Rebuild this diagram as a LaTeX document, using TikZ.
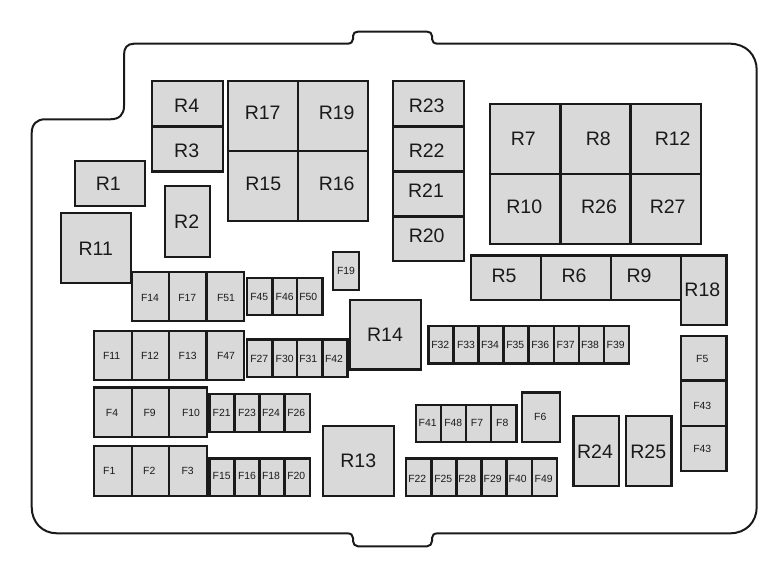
\documentclass[tikz,border=0pt]{standalone}
\usepackage{fontspec}
\setmainfont{Liberation Sans}
\definecolor{boxfill}{HTML}{D9D9D9}
\definecolor{boxline}{HTML}{1A1A1A}
\tikzset{
    housing/.style={draw=boxline, line width=2pt, line join=round},
    slotbox/.style={draw=boxline, fill=boxfill, line width=2.4pt},
    relaylabel/.style={inner sep=0pt, text=boxline, font=\fontsize{19.5}{20}\selectfont},
    fuselabel/.style={inner sep=0pt, text=boxline, font=\fontsize{10.4}{11}\selectfont}
}
% one row of slots: top, bottom, label height, list of left/right/label x/text
\newcommand{\slotrow}[5]{
    \foreach \xa/\xb/\lx/\lab in {#5} {
        \draw [slotbox] (\xa,#1) rectangle (\xb,#2);
        \node [#4] (\lab-#1) at (\lx,#3) {\lab};
    }
}
\begin{document}
\begin{tikzpicture}[x=1pt,y=-1pt]
    \useasboundingbox (0,0) rectangle (782,571);

    % Housing outline
    \draw [housing] (31.7,133) .. controls (31.7,124) and (37,119.3) .. (45,119.3)
        -- (110,119.3) .. controls (119,119.3) and (124,115) .. (124,106)
        -- (124,55) .. controls (124,48) and (127,43.7) .. (134,43.7)
        -- (347,43.7) .. controls (351,43.7) and (353,42) .. (353,39)
        -- (353,36) .. controls (353,33) and (355,31.7) .. (358,31.7)
        -- (427,31.7) .. controls (430,31.7) and (432,33) .. (432,36)
        -- (432,39) .. controls (432,42) and (434,43.7) .. (438,43.7)
        -- (730,43.7) .. controls (746,43.7) and (756.7,55) .. (756.7,70)
        -- (756.7,507) .. controls (756.7,522) and (746,533.3) .. (730,533.3)
        -- (438,533.3) .. controls (434,533.3) and (432,535) .. (432,538)
        -- (432,541) .. controls (432,544) and (430,546.3) .. (427,546.3)
        -- (358,546.3) .. controls (355,546.3) and (353,544) .. (353,541)
        -- (353,538) .. controls (353,535) and (351,533.3) .. (347,533.3)
        -- (57,533.3) .. controls (42,533.3) and (31.7,522) .. (31.7,507)
        -- cycle;

    % Relays, big labels
    \slotrow{81}{126.3}{105.7}{relaylabel}{152/222.7/186.7/R4, 393/463.7/426.7/R23}
    \slotrow{126.3}{171.3}{150.5}{relaylabel}{152/222.7/186.7/R3, 393/463.7/426.7/R22}
    \slotrow{171.3}{216.3}{191}{relaylabel}{393/463.7/426/R21}
    \slotrow{216.3}{261}{236}{relaylabel}{393/463.7/426.7/R20}
    \slotrow{81}{151}{112.3}{relaylabel}{228/298/262.7/R17, 298/368/336.7/R19}
    \slotrow{151}{221}{184}{relaylabel}{228/298/263.3/R15, 298/368/336.7/R16}
    \slotrow{161}{206}{184}{relaylabel}{75/145/108.3/R1}
    \slotrow{186}{256.7}{221.3}{relaylabel}{164.7/210/186.7/R2}
    \slotrow{213}{283}{248.3}{relaylabel}{61/131/95.7/R11}
    \slotrow{103.7}{174}{139}{relaylabel}{490/560.3/523.3/R7, 560.3/630.3/598.3/R8, 630.3/701/672.7/R12}
    \slotrow{174}{243.7}{206.7}{relaylabel}{490/560.3/524.3/R10, 560.3/630.3/599/R26, 630.3/701/667.7/R27}
    \slotrow{255.3}{300}{276}{relaylabel}{471/541/504/R5, 541/611/574/R6, 611/681/639/R9}
    \slotrow{255.3}{324.7}{290}{relaylabel}{681/726.3/702.3/R18}
    \slotrow{300}{369.3}{335}{relaylabel}{350/420.7/385/R14}
    \slotrow{425.7}{496}{460.7}{relaylabel}{323/393.7/358.3/R13}
    \slotrow{415.7}{486}{451.7}{relaylabel}{573.3/619/595/R24, 626/671.3/648.3/R25}

    % Fuses, small labels
    \slotrow{252}{290}{270.7}{fuselabel}{333/359/346/F19}
    \slotrow{271.7}{321}{298.3}{fuselabel}{131.7/169/150/F14, 169/206.3/187.3/F17, 206.3/244/226/F51}
    \slotrow{277.7}{315}{296.7}{fuselabel}{246.7/272.3/259.3/F45, 272.3/297/284.7/F46, 297/322.3/308.3/F50}
    \slotrow{330.7}{380}{356}{fuselabel}{93.7/131.7/111.7/F11, 131.7/169/150/F12, 169/206.3/187.7/F13, 206.3/244/226/F47}
    \slotrow{339.3}{377}{359}{fuselabel}{246.7/272.3/259.3/F27, 272.3/297/284.7/F30, 297/322.3/308.3/F31, 322.3/347.3/334/F42}
    \slotrow{387.3}{436.7}{413.3}{fuselabel}{93.7/131.7/112/F4, 131.7/169/149.7/F9, 169/206.7/191/F10}
    \slotrow{394}{431.7}{413.3}{fuselabel}{209.3/234.3/221.7/F21, 234.3/259.3/247/F23, 259.3/284.3/271/F24, 284.3/309.7/296.3/F26}
    \slotrow{446}{496}{471}{fuselabel}{93.7/131.7/109.3/F1, 131.7/169/149.3/F2, 169/206.7/187.7/F3}
    \slotrow{458.3}{496}{476}{fuselabel}{209.3/234.3/221.7/F15, 234.3/259.3/247/F16, 259.3/284.3/271/F18, 284.3/309.7/296.3/F20}
    \slotrow{325.7}{363.3}{345}{fuselabel}{428.3/453.3/440.3/F32, 453.3/478.3/466/F33, 478.3/503.3/490/F34, 503.3/528.3/515.3/F35, 528.3/553.7/540.3/F36, 553.7/578.7/565.7/F37, 578.7/603.7/590/F38, 603.7/629/615.7/F39}
    \slotrow{404.7}{442}{423}{fuselabel}{415.7/441/427.7/F41, 441/466/453.3/F48, 466/491/477/F7, 491/516.3/502.3/F8}
    \slotrow{392.3}{442}{416.7}{fuselabel}{522/560/540.3/F6}
    \slotrow{458.3}{496}{479}{fuselabel}{406/431.3/417.3/F22, 431.3/456.3/443.3/F25, 456.3/481.3/467.3/F28, 481.3/506.3/492.7/F29, 506.3/531.7/517.7/F40, 531.7/556.7/543.7/F49}
    \slotrow{336}{380.3}{359.3}{fuselabel}{681/726.3/702.3/F5}
    \slotrow{380.3}{425.7}{405.7}{fuselabel}{681/726.3/702.3/F43}
    \slotrow{425.7}{470.7}{449.3}{fuselabel}{681/726.3/702.3/F43}
\end{tikzpicture}
\end{document}
